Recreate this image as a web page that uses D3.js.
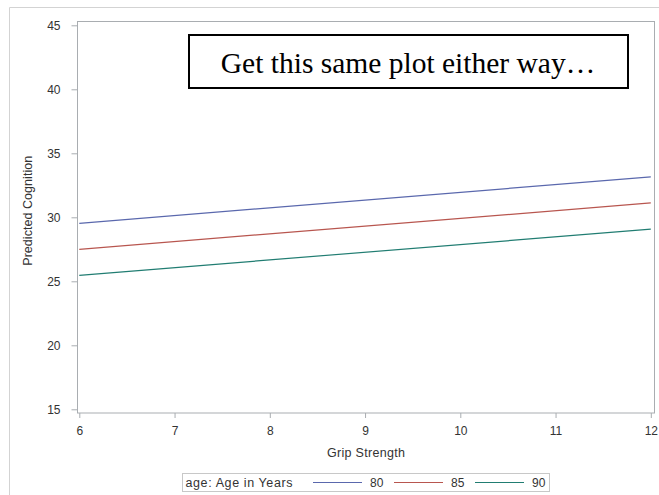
<!DOCTYPE html>
<html>
<head>
<meta charset="utf-8">
<script src="https://cdn.jsdelivr.net/npm/d3@7"></script>
<style>
  html, body { margin: 0; padding: 0; background: #fff; }
  svg { display: block; }
  text { font-family: "Liberation Sans", Arial, sans-serif; fill: #333; }
</style>
</head>
<body>
<svg id="chart" width="659" height="495"></svg>
<script>
// Predicted cognition by grip strength, one line per age group
const gripRange = [6, 12];
const ages = ["80", "85", "90"];
const predAt6 = [29.53, 27.5, 25.47];
const predAt12 = [33.16, 31.12, 29.07];
const xTicks = [6, 7, 8, 9, 10, 11, 12];
const yTicks = [15, 20, 25, 30, 35, 40, 45];
const lineColors = ["#5a68ad", "#b8564f", "#217d72"];

const svg = d3.select("#chart");

// outer panel frame
svg.append("path")
  .attr("d", "M9.5,495 V7.5 H659")
  .attr("fill", "none").attr("stroke", "#d3d3d3");

const plot = { left: 77, right: 655, top: 21, bottom: 412.5 };
const x = d3.scaleLinear().domain(gripRange).range([79.3, 650.8]);
const y = d3.scaleLinear().domain([15, 45]).range([409.3, 25.3]);

// plot area border
svg.append("rect")
  .attr("x", plot.left + 0.5).attr("y", plot.top + 0.5)
  .attr("width", plot.right - plot.left - 1).attr("height", plot.bottom - plot.top)
  .attr("fill", "none").attr("stroke", "#a9adb1");

const axisColor = "#a9adb1";

const yAxis = svg.append("g")
  .attr("transform", `translate(${plot.left + 0.5},0)`)
  .call(d3.axisLeft(y).tickValues(yTicks).tickSize(6).tickPadding(11).tickFormat(d3.format("d")));
yAxis.select(".domain").remove();
yAxis.selectAll(".tick line").attr("stroke", axisColor);
yAxis.selectAll(".tick text").attr("font-size", 12).attr("fill", "#333")
  .attr("font-family", "Liberation Sans, Arial, sans-serif");

const xAxis = svg.append("g")
  .attr("transform", `translate(0,${plot.bottom + 0.5})`)
  .call(d3.axisBottom(x).tickValues(xTicks).tickSize(5).tickPadding(8).tickFormat(d3.format("d")));
xAxis.select(".domain").remove();
xAxis.selectAll(".tick line").attr("stroke", axisColor);
xAxis.selectAll(".tick text").attr("font-size", 12).attr("fill", "#333")
  .attr("font-family", "Liberation Sans, Arial, sans-serif");

// axis titles
svg.append("text")
  .attr("x", (plot.left + plot.right) / 2).attr("y", 457)
  .attr("text-anchor", "middle").attr("font-size", 12.5)
  .attr("textLength", 78).attr("lengthAdjust", "spacing")
  .text("Grip Strength");

svg.append("text")
  .attr("transform", `translate(32,${(plot.top + plot.bottom) / 2 - 6}) rotate(-90)`)
  .attr("text-anchor", "middle").attr("font-size", 12.5)
  .attr("textLength", 110).attr("lengthAdjust", "spacing")
  .text("Predicted Cognition");

// fitted lines
const line = d3.line().x(d => x(d[0])).y(d => y(d[1]));
ages.forEach((age, i) => {
  svg.append("path")
    .datum([[gripRange[0], predAt6[i]], [gripRange[1], predAt12[i]]])
    .attr("d", line)
    .attr("fill", "none")
    .attr("stroke", lineColors[i])
    .attr("stroke-width", 1.2);
});

// legend
const legend = svg.append("g");
legend.append("rect")
  .attr("x", 182.5).attr("y", 473.5).attr("width", 367).attr("height", 18)
  .attr("fill", "#fff").attr("stroke", "#c8c8c8");
legend.append("text")
  .attr("x", 185.5).attr("y", 487).attr("font-size", 12.5)
  .attr("textLength", 107).attr("lengthAdjust", "spacing")
  .text("age: Age in Years");
const swatchX = [313, 394, 475];
ages.forEach((age, i) => {
  legend.append("line")
    .attr("x1", swatchX[i]).attr("x2", swatchX[i] + 49)
    .attr("y1", 482.5).attr("y2", 482.5)
    .attr("stroke", lineColors[i]).attr("stroke-width", 1.2);
  legend.append("text")
    .attr("x", swatchX[i] + 57).attr("y", 487).attr("font-size", 12)
    .text(age);
});

// annotation box
svg.append("rect")
  .attr("x", 189).attr("y", 35).attr("width", 439).attr("height", 53)
  .attr("fill", "#fff").attr("stroke", "#000").attr("stroke-width", 2);
svg.append("text")
  .attr("x", 408).attr("y", 73)
  .attr("text-anchor", "middle")
  .style("font-family", "'Liberation Serif', 'Times New Roman', serif")
  .style("fill", "#000")
  .attr("font-size", 29.5)
  .text("Get this same plot either way…");
</script>
</body>
</html>
